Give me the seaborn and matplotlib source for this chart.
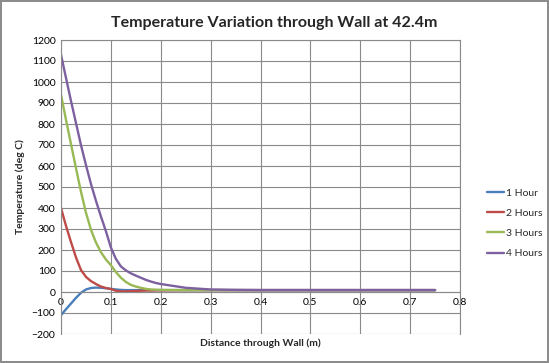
import pandas as pd
import numpy as np
import matplotlib.pyplot as plt
import seaborn as sns

### data
distance = [0, 0.01, 0.02, 0.03, 0.04, 0.05, 0.06, 0.07, 0.08, 0.09, 0.10,
            0.11, 0.12, 0.13, 0.14, 0.15, 0.16, 0.17, 0.18, 0.19, 0.20,
            0.25, 0.30, 0.35, 0.40, 0.50, 0.60, 0.70, 0.75]

hour_1 = [-110, -82, -55, -28, -4, 12, 19, 21, 20, 18, 15,
          12, 10, 9, 9, 9, 9, 9, 9, 9, 9,
          9, 9, 9, 9, 9, 9, 9, 9]
hour_2 = [400, 315, 238, 165, 105, 72, 52, 38, 26, 19, 14,
          6, 3, 3, 4, 5, 6, 7, 7, 8, 8,
          9, 9, 9, 9, 9, 9, 9, 9]
hour_3 = [940, 820, 705, 590, 478, 378, 297, 236, 190, 155, 128,
          95, 68, 48, 34, 26, 20, 15, 12, 11, 10,
          9, 9, 9, 9, 9, 9, 9, 9]
hour_4 = [1130, 1020, 910, 805, 700, 605, 515, 435, 360, 290, 212,
          158, 122, 103, 89, 78, 68, 58, 50, 43, 38,
          20, 12, 10, 9, 9, 9, 9, 9]

series_names = ['1 Hour', '2 Hours', '3 Hours', '4 Hours']
series_colors = ['#4A7EBB', '#BE4B48', '#98B954', '#7D60A0']

x_ticks = [0, 0.1, 0.2, 0.3, 0.4, 0.5, 0.6, 0.7, 0.8]
y_ticks = list(range(-200, 1201, 100))

### long table for seaborn
frames = []
for name, vals in zip(series_names, [hour_1, hour_2, hour_3, hour_4]) :
    frames.append(pd.DataFrame({'distance' : distance, 'temp' : vals, 'series' : name}))
df = pd.concat(frames, ignore_index = True)

sns.set_style("white")
plt.rcParams['font.family'] = ['Lato', 'DejaVu Sans']

fig = plt.figure(figsize = (5.49, 3.63), dpi = 100, linewidth = 1.5, edgecolor = '#8c8c8c')
ax = fig.add_axes([61 / 549, 29 / 363, 399 / 549, 294 / 363])

sns.lineplot(data = df, x = 'distance', y = 'temp', hue = 'series',
             palette = dict(zip(series_names, series_colors)),
             linewidth = 1.7, ax = ax, legend = True)

ax.set_xlim(0, 0.8)
ax.set_ylim(-200, 1200)
ax.set_xticks(x_ticks)
ax.set_xticklabels([f"{t:g}" for t in x_ticks])
ax.set_yticks(y_ticks)
ax.grid(True, color = '#8a8a8a', linewidth = 0.8)
ax.set_axisbelow(True)

for side in ['left', 'right', 'top', 'bottom'] :
    ax.spines[side].set_color('#8a8a8a')
    ax.spines[side].set_linewidth(0.8)
ax.spines['bottom'].set_position(('data', 0))
ax.tick_params(axis = 'both', length = 0, labelsize = 7.5, colors = 'black', pad = 4)

ax.set_xlabel('Distance through Wall (m)', fontsize = 7.5, fontweight = 'bold', va = 'center')
ax.xaxis.set_label_coords(0.5, -9 / 294)
ax.set_ylabel('Temperature (deg C)', fontsize = 7.5, fontweight = 'bold', labelpad = 5)
fig.suptitle('Temperature Variation through Wall at 42.4m', fontsize = 11.5, fontweight = 'bold', y = 0.955)

handles, labels = ax.get_legend_handles_labels()
ax.legend(handles, labels, loc = 'center left', bbox_to_anchor = (478 / 549, 0.385),
          bbox_transform = fig.transFigure, frameon = False, fontsize = 7.5,
          handlelength = 1.6, labelspacing = 1.05, handletextpad = 0.2)

fig.savefig('out.png', dpi = 100)
